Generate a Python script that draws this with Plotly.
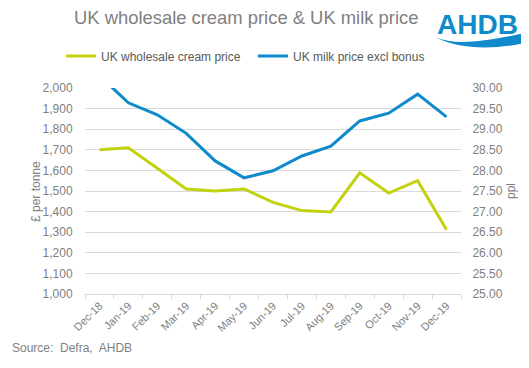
import plotly.graph_objects as go

months = ["Dec-18", "Jan-19", "Feb-19", "Mar-19", "Apr-19", "May-19", "Jun-19",
          "Jul-19", "Aug-19", "Sep-19", "Oct-19", "Nov-19", "Dec-19"]
cream_price = [1700, 1710, 1610, 1510, 1500, 1510, 1445, 1405, 1398, 1588, 1490, 1550, 1312]
milk_price = [30.30, 29.64, 29.35, 28.90, 28.23, 27.82, 27.99, 28.35, 28.59, 29.20, 29.39, 29.85, 29.30]

left_ticks = [1000, 1100, 1200, 1300, 1400, 1500, 1600, 1700, 1800, 1900, 2000]
right_ticks = [25.0, 25.5, 26.0, 26.5, 27.0, 27.5, 28.0, 28.5, 29.0, 29.5, 30.0]

GREEN = "#c3d10f"
BLUE = "#0f8acb"
GREY = "#808080"
FONT = "Liberation Sans, Arial, sans-serif"

# the page body has an 8px margin: work in page pixels and shift
OFF = 8
W, H = 529 - OFF, 368 - OFF
L, R, T, B = 85, 461, 88, 294          # plot area in page px
PW, PH = R - L, B - T


def px(x):
    return (x - L) / PW


def py(y):
    return (B - y) / PH


fig = go.Figure()
fig.add_trace(go.Scatter(x=months, y=cream_price, name="UK wholesale cream price",
                         mode="lines", line=dict(color=GREEN, width=3), yaxis="y"))
fig.add_trace(go.Scatter(x=months, y=milk_price, name="UK milk price excl bonus",
                         mode="lines", line=dict(color=BLUE, width=3), yaxis="y2"))

fig.update_layout(
    width=W, height=H,
    margin=dict(l=L - OFF, r=529 - R, t=T - OFF, b=368 - B, autoexpand=False),
    paper_bgcolor="white", plot_bgcolor="white",
    font=dict(family=FONT, color=GREY, size=12),
    showlegend=True,
    legend=dict(orientation="h", x=px(61), xanchor="left", y=py(56), yanchor="middle",
                font=dict(size=12, color="#595959"),
                itemwidth=30, entrywidth=147, bgcolor="rgba(0,0,0,0)"),
    xaxis=dict(type="category", tickangle=-45, tickfont=dict(size=11, color=GREY),
               showgrid=False, showline=True, linecolor="#d9d9d9", ticks="outside",
               ticklen=4, tickcolor="#d9d9d9", tickson="boundaries",
               range=[-0.5, 12.5], automargin=False),
    yaxis=dict(range=[1000, 2000], tickvals=left_ticks, tickformat=",d",
               gridcolor="#d9d9d9", zeroline=False, showline=False,
               tickfont=dict(size=12, color=GREY), ticks="outside", ticklen=9,
               tickcolor="rgba(0,0,0,0)", automargin=False),
    yaxis2=dict(range=[25, 30], tickvals=right_ticks, tickformat=".2f",
                overlaying="y", side="right", showgrid=False, zeroline=False,
                tickfont=dict(size=12, color=GREY), ticks="outside", ticklen=8,
                tickcolor="rgba(0,0,0,0)", automargin=False),
)

fig.add_annotation(text="£ per tonne", xref="paper", yref="paper", textangle=-90,
                   x=px(36), y=py(192), xanchor="center", yanchor="middle",
                   showarrow=False, font=dict(size=12, color=GREY, family=FONT))
fig.add_annotation(text="ppl", xref="paper", yref="paper", textangle=-90,
                   x=px(511), y=py(191), xanchor="center", yanchor="middle",
                   showarrow=False, font=dict(size=12, color=GREY, family=FONT))
fig.add_annotation(text="UK wholesale cream price & UK milk price", xref="paper", yref="paper",
                   x=px(245.5), y=py(18), xanchor="center", yanchor="middle",
                   showarrow=False, font=dict(size=18.4, color="#808080", family=FONT))
fig.add_annotation(text="<b>AHDB</b>", xref="paper", yref="paper",
                   x=px(477.5), y=py(8), xanchor="center", yanchor="top", borderpad=0,
                   showarrow=False, font=dict(size=28, color=BLUE, family=FONT))
fig.add_annotation(text="Source:  Defra,  AHDB", xref="paper", yref="paper",
                   x=px(10), y=py(348), xanchor="left", yanchor="middle",
                   showarrow=False, font=dict(size=12, color=GREY, family=FONT))

# logo swoosh
fig.add_shape(type="path", xref="paper", yref="paper", line=dict(width=0), fillcolor=BLUE,
              path="M {a},{b} C {c},{d} {e},{f} {g},{h} L {g},{i} C {j},{k} {l},{m} {a},{b} Z".format(
                  a=px(435), b=py(37),
                  c=px(455), d=py(46),
                  e=px(485), f=py(42),
                  g=px(529), h=py(32),
                  i=py(42),
                  j=px(495), k=py(50),
                  l=px(460), m=py(50)))

fig.write_html("out.html")
